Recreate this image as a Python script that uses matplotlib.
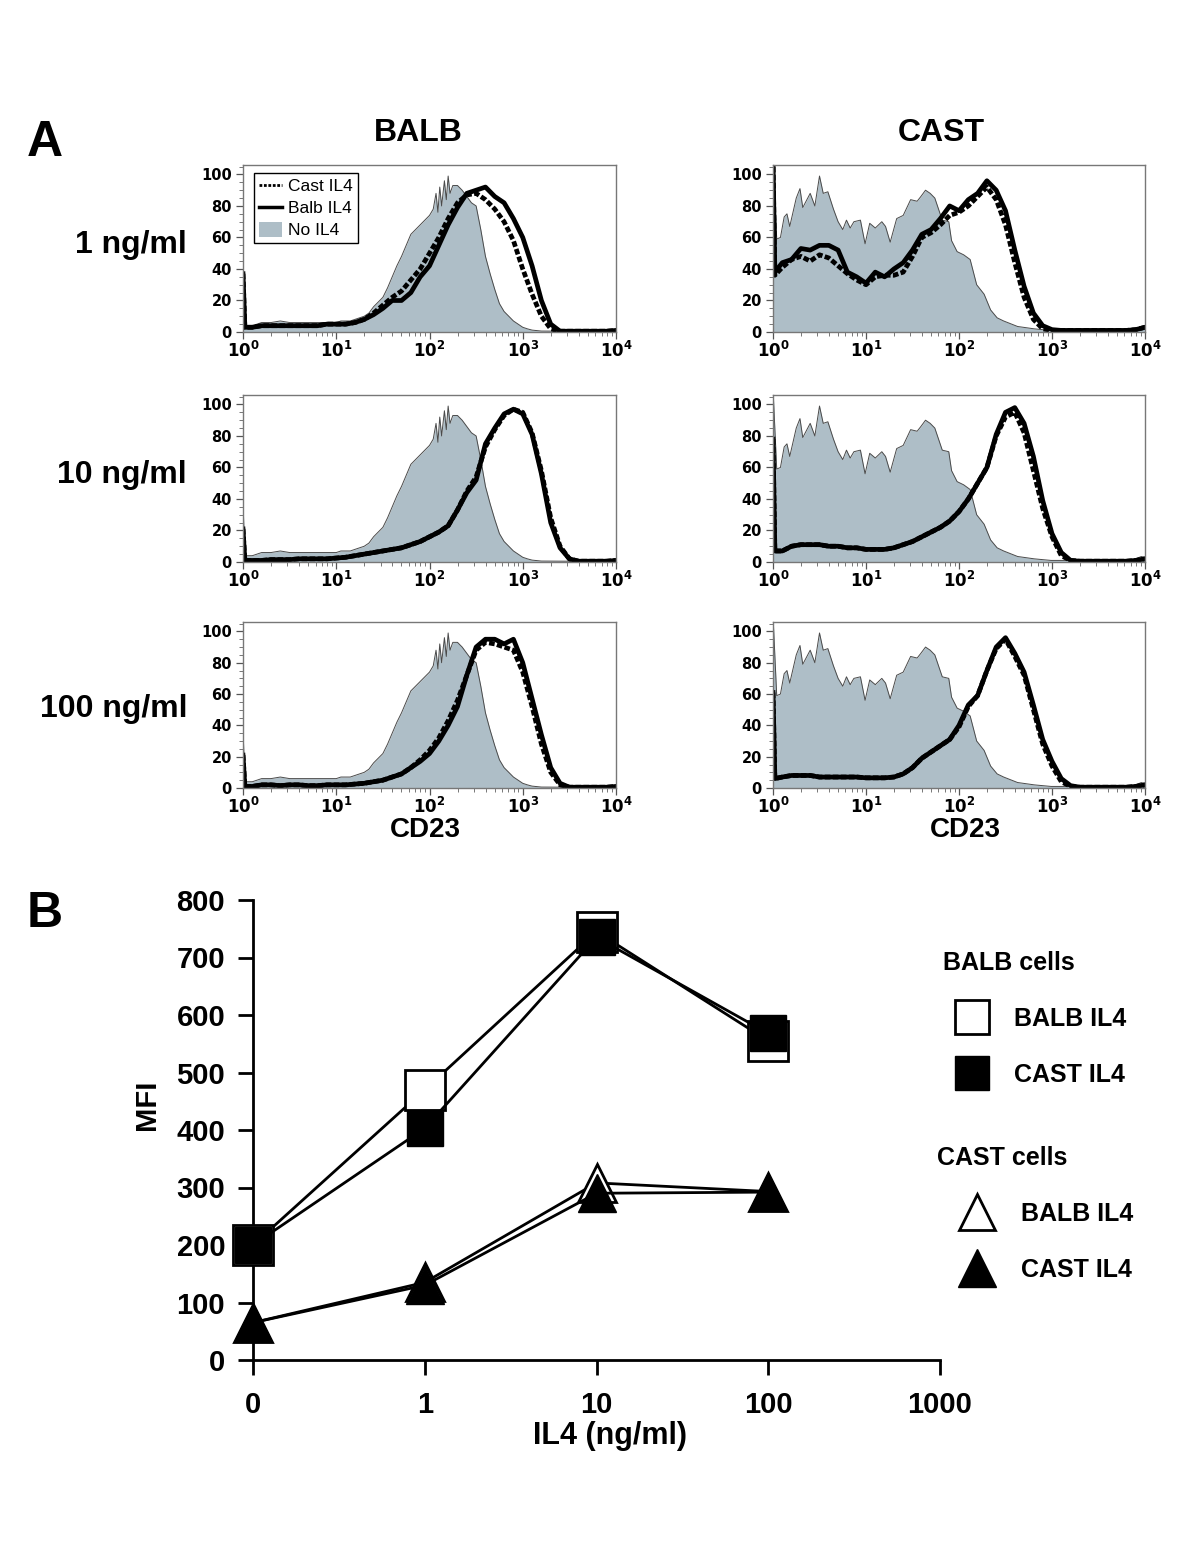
import numpy as np
import matplotlib
matplotlib.use('Agg')
import matplotlib.pyplot as plt
from matplotlib.lines import Line2D
from matplotlib.patches import Patch
from matplotlib.ticker import LogLocator, FuncFormatter, MultipleLocator, NullFormatter

# ---------------- data: panel A (flow histograms, x in log10 units) ----------------
X = [0.0, 0.02, 0.1, 0.2, 0.3, 0.4, 0.5, 0.6, 0.7, 0.8, 0.9, 1.0, 1.1, 1.2, 1.3, 1.4,
     1.5, 1.6, 1.7, 1.8, 1.9, 2.0, 2.1, 2.2, 2.3, 2.4, 2.5, 2.6, 2.7, 2.8, 2.9, 3.0,
     3.1, 3.2, 3.3, 3.4, 3.5, 3.6, 3.7, 3.8, 3.9, 4.0]

# BALB cells
balb_1_balb = [37, 3, 3, 4, 4, 4, 4, 4, 4, 4, 5, 5, 5, 6, 8, 11, 15, 20, 20, 25, 35, 42, 55, 68, 79, 88,
               90, 92, 86, 82, 72, 60, 42, 20, 5, 0.5, 0.5, 0.5, 0.5, 0.5, 0.5, 1]
balb_1_cast = [37, 3, 3, 4, 4, 4, 4, 4, 4, 4, 5, 5, 5, 6, 8, 12, 17, 22, 26, 33, 40, 50, 60, 72, 82, 87,
               88, 84, 78, 70, 58, 40, 24, 10, 2, 0.5, 0.5, 0.5, 0.5, 0.5, 0.5, 1]
balb_10_balb = [21, 1, 1, 1, 1.5, 1.5, 1.5, 2, 2, 2, 2, 2.5, 3, 4, 5, 6, 7, 8, 9, 11, 13, 16, 19, 23, 33, 44,
                52, 75, 85, 94, 97, 94, 81, 56, 25, 9, 2, 0.5, 0.5, 0.5, 0.5, 1]
balb_10_cast = [21, 1, 1, 1, 1.5, 1.5, 1.5, 2, 2, 2, 2, 2.5, 3, 4, 5, 6, 7, 8, 9, 11, 13, 16, 19, 23, 33, 45,
                54, 73, 84, 93, 97, 95, 82, 58, 28, 10, 2, 0.5, 0.5, 0.5, 0.5, 1]
balb_100_balb = [21, 1, 1, 2, 2, 1.5, 2, 2, 1.5, 1.5, 2, 2, 2, 2.5, 3, 4, 5, 7, 9, 13, 17, 22, 30, 40, 52, 72,
                 90, 95, 95, 92, 95, 80, 57, 34, 13, 3, 0.5, 0.5, 0.5, 0.5, 0.5, 1]
balb_100_cast = [21, 1, 1, 2, 2, 1.5, 2, 2, 1.5, 1.5, 2, 2, 2, 2.5, 3, 4, 5, 7, 9, 13, 18, 24, 32, 43, 56, 72,
                 88, 93, 92, 90, 88, 74, 52, 28, 10, 2, 0.5, 0.5, 0.5, 0.5, 0.5, 1]

# CAST cells
cast_1_balb = [110, 38, 44, 46, 53, 52, 55, 55, 52, 38, 35, 31, 38, 35, 40, 44, 52, 62, 65, 72, 80, 77, 84, 88,
               96, 90, 77, 52, 29, 12, 4, 1.5, 1, 1, 1, 1, 1, 1, 1, 1, 1.5, 3]
cast_1_cast = [110, 36, 41, 46, 48, 45, 49, 47, 42, 37, 33, 30, 35, 36, 36, 38, 48, 60, 63, 68, 74, 76, 80, 86,
               92, 84, 68, 44, 22, 8, 2, 1, 1, 1, 1, 1, 1, 1, 1, 1, 1.5, 3]
cast_10_balb = [78, 7, 7, 10, 11, 11, 11, 10, 10, 9, 9, 8, 8, 8, 9, 11, 13, 16, 19, 22, 26, 32, 40, 50, 60, 81,
                95, 98, 88, 67, 39, 18, 6, 1, 0.5, 0.5, 0.5, 0.5, 0.5, 0.5, 1, 2]
cast_10_cast = [78, 7, 7, 10, 11, 11, 11, 10, 10, 9, 9, 8, 8, 8, 9, 11, 13, 16, 19, 22, 26, 32, 40, 50, 60, 80,
                92, 95, 82, 58, 34, 16, 4, 1, 0.5, 0.5, 0.5, 0.5, 0.5, 0.5, 1, 2]
cast_100_balb = [61, 6, 7, 8, 8, 8, 7, 7, 7, 7, 7, 6.5, 6.5, 6.5, 7, 9, 13, 19, 23, 27, 31, 40, 53, 59, 75, 90,
                 96, 86, 74, 53, 31, 17, 6, 1.5, 0.5, 0.5, 0.5, 0.5, 0.5, 0.5, 1, 2]
cast_100_cast = [61, 6, 7, 8, 8, 8, 7, 7, 7, 7, 7, 6.5, 6.5, 6.5, 7, 9, 13, 19, 23, 27, 31, 39, 52, 59, 75, 89,
                 95, 84, 72, 50, 28, 14, 4, 1, 0.5, 0.5, 0.5, 0.5, 0.5, 0.5, 1, 2]

# No IL4 controls (same in every row of a column)
balb_ctrl_x = [0.0, 0.02, 0.1, 0.2, 0.3, 0.4, 0.5, 0.6, 0.7, 0.8, 0.9, 1.0, 1.05, 1.1, 1.15, 1.2, 1.25, 1.3,
               1.35, 1.4, 1.45, 1.5, 1.55, 1.6, 1.65, 1.7, 1.75, 1.8, 1.85, 1.9, 1.95, 2.0, 2.04, 2.07, 2.09,
               2.11, 2.13, 2.16, 2.18, 2.2, 2.22, 2.25, 2.3, 2.35, 2.4, 2.45, 2.5, 2.55, 2.6, 2.65, 2.7, 2.75,
               2.8, 2.85, 2.9, 2.95, 3.0, 3.05, 3.1, 3.2, 3.5, 4.0]
balb_ctrl_y = [38, 4, 4, 6, 6, 7, 6, 6, 6, 6, 6, 6, 7, 7, 7, 8, 9, 10, 12, 16, 19, 22, 28, 35, 42, 48, 55, 62,
               65, 68, 71, 74, 78, 88, 76, 92, 80, 96, 84, 99, 88, 93, 93, 90, 86, 82, 80, 65, 48, 37, 27, 18,
               13, 10, 7, 5, 3, 2, 1.2, 0.6, 0.5, 0.5]
cast_ctrl_x = [0.0, 0.04, 0.08, 0.12, 0.15, 0.18, 0.25, 0.29, 0.32, 0.4, 0.45, 0.5, 0.54, 0.59, 0.65, 0.7,
               0.75, 0.79, 0.83, 0.87, 0.94, 0.99, 1.04, 1.1, 1.17, 1.21, 1.26, 1.33, 1.4, 1.48, 1.55, 1.59,
               1.64, 1.69, 1.74, 1.82, 1.89, 1.92, 1.98, 2.05, 2.12, 2.19, 2.27, 2.34, 2.41, 2.48, 2.63, 2.81,
               2.99, 3.35, 3.88, 3.96, 4.0]
cast_ctrl_y = [110, 59, 60, 73, 75, 67, 85, 91, 79, 88, 80, 99, 88, 89, 78, 70, 65, 71, 66, 70, 71, 56, 69, 66,
               70, 67, 57, 72, 74, 84, 83, 86, 90, 88, 85, 71, 70, 58, 51, 49, 46, 30, 24, 14, 9, 7, 3.5, 2, 1,
               1, 1.5, 3.5, 2.5]

row_labels = ['1 ng/ml', '10 ng/ml', '100 ng/ml']
col_labels = ['BALB', 'CAST']

# ---------------- data: panel B (MFI) ----------------
conc_labels = ['0', '1', '10', '100', '1000']
balb_cells_balb_il4 = [200, 470, 745, 555]
balb_cells_cast_il4 = [200, 403, 735, 568]
cast_cells_balb_il4 = [65, 135, 308, 293]
cast_cells_cast_il4 = [65, 130, 290, 292]

# ---------------- figure ----------------
W, H = 1200, 1553
plt.rcParams['font.family'] = ['Liberation Sans', 'DejaVu Sans']
fig = plt.figure(figsize=(W / 100, H / 100), dpi=100)

GRAY = '#aebec7'


def px_box(l, t, r, b):
    return [l / W, 1 - b / H, (r - l) / W, (b - t) / H]


def px_text(x, y, s, **kw):
    fig.text(x / W, 1 - y / H, s, **kw)


panels = {
    'BALB': [(balb_1_balb, balb_1_cast), (balb_10_balb, balb_10_cast), (balb_100_balb, balb_100_cast)],
    'CAST': [(cast_1_balb, cast_1_cast), (cast_10_balb, cast_10_cast), (cast_100_balb, cast_100_cast)],
}
controls = {'BALB': (balb_ctrl_x, balb_ctrl_y), 'CAST': (cast_ctrl_x, cast_ctrl_y)}
col_px = {'BALB': (243, 616), 'CAST': (773, 1145)}
row_px = [(165, 332), (395, 562), (622, 788)]
xs = 10 ** np.array(X)

for col in col_labels:
    cx = 10 ** np.array(controls[col][0])
    cy = controls[col][1]
    for r, (solid, dotted) in enumerate(panels[col]):
        l, rr = col_px[col]
        t, b = row_px[r]
        ax = fig.add_axes(px_box(l, t, rr, b))
        ax.fill_between(cx, cy, color=GRAY, lw=0)
        ax.plot(cx, cy, color='#4a4a4a', lw=0.7)
        ax.plot(xs, solid, color='black', lw=3.4)
        ax.plot(xs, dotted, color='black', lw=3.4, ls=(0, (1.2, 0.5)))
        ax.set_xscale('log')
        ax.set_xlim(1, 1e4)
        ax.set_ylim(0, 106)
        ax.set_yticks([0, 20, 40, 60, 80, 100])
        ax.yaxis.set_minor_locator(MultipleLocator(5))
        ax.xaxis.set_major_locator(LogLocator(base=10, numticks=10))
        ax.xaxis.set_minor_locator(LogLocator(base=10, subs=range(2, 10), numticks=20))
        ax.xaxis.set_minor_formatter(NullFormatter())
        ax.xaxis.set_major_formatter(FuncFormatter(lambda v, p: r'$\mathbf{10^{%d}}$' % round(np.log10(v))))
        ax.tick_params(which='major', length=5, width=0.9, color='#555', labelsize=12, pad=1)
        ax.tick_params(which='minor', length=3, width=0.7, color='#777')
        ax.tick_params(axis='y', labelsize=10.5, pad=3)
        for lab in ax.get_yticklabels():
            lab.set_fontweight('bold')
            lab.set_family('DejaVu Sans')
        for s in ax.spines.values():
            s.set_color('#777')
            s.set_linewidth(1)
        if col == 'BALB' and r == 0:
            handles = [Line2D([], [], color='black', lw=2, ls=(0, (1, 0.6))),
                       Line2D([], [], color='black', lw=2.5),
                       Patch(facecolor=GRAY, edgecolor='none')]
            ax.legend(handles, ['Cast IL4', 'Balb IL4', 'No IL4'], loc='upper left',
                      bbox_to_anchor=(0.03, 0.955), borderaxespad=0, fontsize=12.5,
                      handlelength=1.3, handletextpad=0.35, borderpad=0.3, labelspacing=0.3,
                      handleheight=1.0, fancybox=False, edgecolor='black', framealpha=1)

# panel A annotations
px_text(45, 143, 'A', fontsize=36, fontweight='bold', ha='center', va='center')
px_text(418, 133, 'BALB', fontsize=23, fontweight='bold', ha='center', va='center')
px_text(941, 133, 'CAST', fontsize=23, fontweight='bold', ha='center', va='center')
for lab, y in zip(row_labels, [245, 475, 709]):
    px_text(187, y, lab, fontsize=23, fontweight='bold', ha='right', va='center')
px_text(425, 830, 'CD23', fontsize=20, fontweight='bold', ha='center', va='center')
px_text(965, 830, 'CD23', fontsize=20, fontweight='bold', ha='center', va='center')

# ---------------- panel B ----------------
px_text(45, 914, 'B', fontsize=36, fontweight='bold', ha='center', va='center')
axb = fig.add_axes(px_box(253, 900, 940, 1360))
pos = np.arange(len(balb_cells_balb_il4))
axb.plot(pos, balb_cells_balb_il4, color='black', lw=2, marker='s', ms=29, mfc='white',
         mec='black', mew=2, clip_on=False, zorder=3)
axb.plot(pos, balb_cells_cast_il4, color='black', lw=2, marker='s', ms=26, mfc='black',
         mec='black', clip_on=False, zorder=4)
axb.plot(pos, cast_cells_balb_il4, color='black', lw=2, marker='^', ms=27, mfc='white',
         mec='black', mew=2, clip_on=False, zorder=3)
axb.plot(pos, cast_cells_cast_il4, color='black', lw=2, marker='^', ms=27, mfc='black',
         mec='black', clip_on=False, zorder=4)
axb.set_xlim(0, 4)
axb.set_ylim(0, 800)
axb.set_xticks(range(len(conc_labels)))
axb.set_xticklabels(conc_labels)
axb.set_yticks(range(0, 801, 100))
for s in ['top', 'right']:
    axb.spines[s].set_visible(False)
for s in ['left', 'bottom']:
    axb.spines[s].set_linewidth(2)
axb.tick_params(length=11, width=2, labelsize=21)
axb.tick_params(axis='x', pad=11)
axb.tick_params(axis='y', pad=9)
for lab in axb.get_xticklabels() + axb.get_yticklabels():
    lab.set_fontweight('bold')
axb.set_ylabel('MFI', fontsize=21, fontweight='bold')
axb.yaxis.set_label_coords(-0.134, 0.554)
axb.set_xlabel('IL4 (ng/ml)', fontsize=22, fontweight='bold')
axb.xaxis.set_label_coords(0.52, -0.133)

# legend for panel B
sq_open = Line2D([], [], ls='none', marker='s', ms=24, mfc='white', mec='black', mew=2)
sq_fill = Line2D([], [], ls='none', marker='s', ms=25, mfc='black', mec='black')
tr_open = Line2D([], [], ls='none', marker='^', ms=26, mfc='white', mec='black', mew=2)
tr_fill = Line2D([], [], ls='none', marker='^', ms=27, mfc='black', mec='black')
bold18 = {'weight': 'bold', 'size': 18}
leg1 = fig.legend([sq_open, sq_fill], ['BALB IL4', 'CAST IL4'], title='BALB cells',
                  loc='upper left', bbox_to_anchor=(943 / W, 1 - 951 / H), frameon=False,
                  prop=bold18, title_fontproperties=bold18, alignment='left',
                  handlelength=2.3, handletextpad=0.55, labelspacing=1.28, borderpad=0,
                  borderaxespad=0)
leg2 = fig.legend([tr_open, tr_fill], ['BALB IL4', 'CAST IL4'], title='CAST cells',
                  loc='upper left', bbox_to_anchor=(937 / W, 1 - 1146 / H), frameon=False,
                  prop=bold18, title_fontproperties=bold18, alignment='left',
                  handlelength=3.2, handletextpad=0.16, labelspacing=1.28, borderpad=0,
                  borderaxespad=0)

fig.savefig('out.png', dpi=100)
